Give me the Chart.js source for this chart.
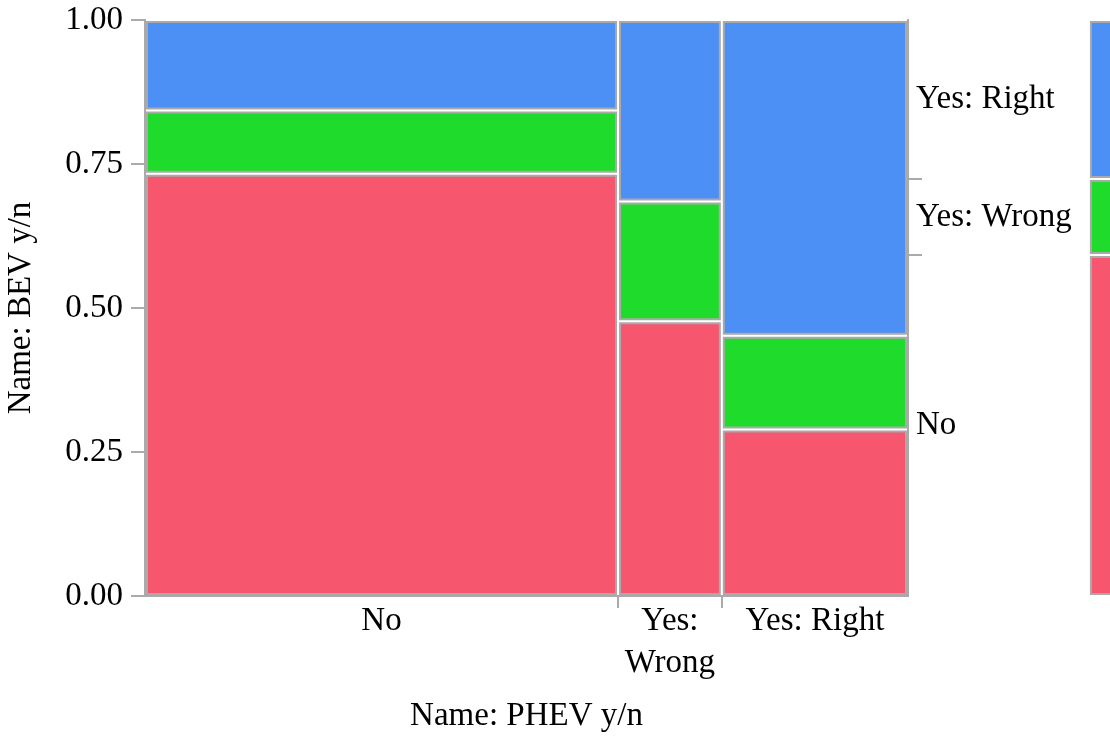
<!DOCTYPE html>
<html>
<head>
<meta charset="utf-8">
<script src="https://cdn.jsdelivr.net/npm/chart.js@4"></script>
<style>
  html, body { margin: 0; padding: 0; background: #fff; }
  #wrap { position: relative; width: 1110px; height: 740px; overflow: hidden; }
  #main { position: absolute; left: 0; top: 0; }
  #key { position: absolute; left: 1088px; top: 0; }
</style>
</head>
<body>
<div id="wrap">
  <canvas id="main" width="1110" height="740"></canvas>
  <canvas id="key" width="40" height="740"></canvas>
</div>
<script>
// mosaic: PHEV y/n columns, BEV y/n stacked inside
const phevLabels = ['No', ['Yes:', 'Wrong'], 'Yes: Right'];
const phevShare = [0.620, 0.136, 0.244];
const bevLabels = ['No', 'Yes: Wrong', 'Yes: Right'];
const bevInNo = [0.733, 0.110, 0.157];
const bevInWrong = [0.477, 0.208, 0.315];
const bevInRight = [0.289, 0.163, 0.548];
const bevShare = [0.592, 0.132, 0.276];
const yTicks = [0, 0.25, 0.5, 0.75, 1];

const bevColors = ['#f7566f', '#1fdc2c', '#4c8ff5'];
const GRAY = '#aaaaaa';
const GX = 0.0026, GY = 0.0035; // half gap between tiles

Chart.defaults.font.family = '"Liberation Serif", "Times New Roman", serif';
Chart.defaults.font.size = 33;
Chart.defaults.color = '#000';

function tile(x0, x1, y0, y1, color) {
  return {
    data: [
      {x: x0 + GX, y: y0 + GY}, {x: x0 + GX, y: y1 - GY},
      {x: x1 - GX, y: y1 - GY}, {x: x1 - GX, y: y0 + GY},
      {x: x0 + GX, y: y0 + GY}
    ],
    fill: 'shape',
    backgroundColor: color,
    borderColor: GRAY,
    borderWidth: 2,
    borderCapStyle: 'square',
    borderJoinStyle: 'miter',
    pointRadius: 0,
    tension: 0
  };
}

function stackTiles(x0, x1, shares, out) {
  let y = 0;
  shares.forEach((s, k) => {
    out.push(tile(x0, x1, y, y + s, bevColors[k]));
    y += s;
  });
}

// build tiles
const within = [bevInNo, bevInWrong, bevInRight];
const tiles = [];
let cx = 0;
const xTicks = [];
phevShare.forEach((w, i) => {
  stackTiles(cx, cx + w, within[i], tiles);
  xTicks.push({value: cx + w / 2, text: phevLabels[i], edge: false});
  if (i < phevShare.length - 1) xTicks.push({value: cx + w, text: '', edge: true});
  cx += w;
});

let cy = 0;
const y2Ticks = [];
bevShare.forEach((s, i) => {
  y2Ticks.push({value: cy + s / 2, text: bevLabels[i], edge: false});
  if (i < bevShare.length - 1) y2Ticks.push({value: cy + s, text: '', edge: true});
  cy += s;
});

const tickCol = ctx => (ctx.tick && ctx.tick.edge ? GRAY : 'rgba(0,0,0,0)');
const noPad = s => { s.paddingTop = 0; s.paddingBottom = 0; };

new Chart(document.getElementById('main'), {
  type: 'line',
  data: { datasets: tiles },
  options: {
    responsive: false,
    animation: false,
    layout: { padding: { top: 20, right: 0, bottom: 0, left: 0 } },
    plugins: { legend: { display: false }, tooltip: { enabled: false } },
    scales: {
      x: {
        type: 'linear', min: 0, max: 1, position: 'bottom',
        afterBuildTicks: s => { s.ticks = xTicks.map(t => Object.assign({}, t)); },
        afterFit: s => { s.height = 144; s.paddingLeft = 0; s.paddingRight = 0; },
        ticks: {
          autoSkip: false, maxRotation: 0, padding: -7,
          font: { lineHeight: 1.26 },
          callback: (v, i, ticks) => ticks[i].text
        },
        grid: { drawOnChartArea: false, tickLength: 12, lineWidth: 2, tickColor: tickCol },
        border: { color: GRAY, width: 2 },
        title: { display: true, text: 'Name: PHEV y/n', padding: { top: 0, bottom: 4 } }
      },
      y: {
        type: 'linear', min: 0, max: 1, position: 'left',
        afterBuildTicks: s => { s.ticks = yTicks.map(v => ({value: v})); },
        afterFit: s => { s.width = 145; noPad(s); },
        ticks: { padding: 8, callback: v => v.toFixed(2) },
        grid: { drawOnChartArea: false, tickLength: 14, lineWidth: 2, color: GRAY },
        border: { color: GRAY, width: 2 },
        title: { display: true, text: 'Name: BEV y/n', padding: { top: 2, bottom: 0 } }
      },
      y2: {
        type: 'linear', min: 0, max: 1, position: 'right',
        afterBuildTicks: s => { s.ticks = y2Ticks.map(t => Object.assign({}, t)); },
        afterFit: s => { s.width = 202; noPad(s); },
        ticks: { padding: -6, callback: (v, i, ticks) => ticks[i].text },
        grid: { drawOnChartArea: false, tickLength: 14, lineWidth: 2, tickColor: tickCol },
        border: { color: GRAY, width: 2 }
      }
    }
  }
});

// key bar on the far right: overall BEV split
const keyTiles = [];
let ky = 0;
bevShare.forEach((s, k) => {
  keyTiles.push(tile(0.07, 1.6, ky, ky + s, bevColors[k]));
  ky += s;
});

new Chart(document.getElementById('key'), {
  type: 'line',
  data: { datasets: keyTiles },
  options: {
    responsive: false,
    animation: false,
    layout: { padding: { top: 20, right: 0, bottom: 144, left: 0 } },
    plugins: { legend: { display: false }, tooltip: { enabled: false } },
    scales: {
      x: { type: 'linear', min: 0, max: 1, display: false },
      y: { type: 'linear', min: 0, max: 1, display: false }
    }
  }
});
</script>
</body>
</html>
